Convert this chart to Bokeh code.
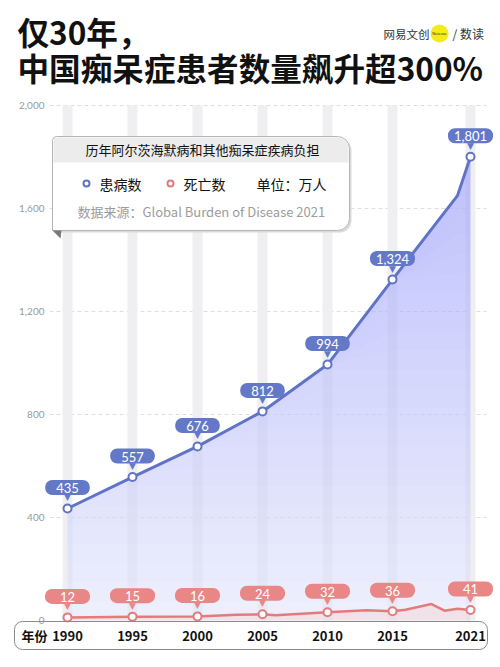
import numpy as np
from bokeh.plotting import figure
from bokeh.models import (ColumnDataSource, Range1d, BoxAnnotation, Label, PolyAnnotation,
                          FixedTicker, NumeralTickFormatter)
from bokeh.core.properties import value
from bokeh.embed import file_html
from bokeh.resources import INLINE

# ---------------- data ----------------
label_years = [1990, 1995, 2000, 2005, 2010, 2015, 2021]
prev_years = [1990, 1995, 2000, 2005, 2010, 2015, 2020, 2021]
prevalence = [435, 557, 676, 812, 994, 1324, 1650, 1801]          # 万人
death_years = [1990, 1995, 2000, 2003, 2005, 2006, 2010, 2013, 2015, 2016, 2018, 2019, 2020, 2021]
deaths = [12, 15, 16, 22, 24, 20, 32, 40, 36, 42, 64, 38, 46, 41]  # 万人
y_ticks = [0, 400, 800, 1200, 1600, 2000]

title1 = "仅30年，"
title2 = "中国痴呆症患者数量飙升超300%"
legend_title = "历年阿尔茨海默病和其他痴呆症疾病负担"
source_text = "数据来源：Global Burden of Disease 2021"

BLUE = "#6073c6"
BLUE_BUBBLE = "#6478c8"
RED = "#e27c7c"
RED_BUBBLE = "#e98686"
CJK = "Noto Sans CJK SC"
NUM = "Lato"

# ---------------- scales (page pixels <-> data) ----------------
X0_PX, PX_PER_YEAR = 67, 13.0
Y0_PX, PX_PER_UNIT = 620, 0.2575


def xd(px):
    return 1990 + (px - X0_PX) / PX_PER_YEAR


def yd(py):
    return (Y0_PX - py) / PX_PER_UNIT


W, H = 500, 667
p = figure(width=W, height=H, output_backend="svg", toolbar_location=None,
           x_range=Range1d(xd(0), xd(W)), y_range=Range1d(yd(H), yd(0)),
           min_border=0)
p.outline_line_color = None
p.background_fill_color = "white"
p.border_fill_color = "white"

# axes (labels pulled into the frame with negative standoff)
p.yaxis.ticker = FixedTicker(ticks=y_ticks)
p.yaxis.formatter = NumeralTickFormatter(format="0,0")
p.yaxis.axis_line_color = None
p.yaxis.major_tick_line_color = None
p.yaxis.minor_tick_line_color = None
p.yaxis.major_tick_out = 0
p.yaxis.major_tick_in = 0
p.yaxis.minor_tick_out = 0
p.yaxis.major_label_text_font = NUM
p.yaxis.major_label_text_font_size = "10px"
p.yaxis.major_label_text_color = "#9a9a9a"
p.yaxis.major_label_standoff = -44

p.xaxis.ticker = FixedTicker(ticks=label_years)
p.xaxis.axis_line_color = None
p.xaxis.major_tick_line_color = None
p.xaxis.minor_tick_line_color = None
p.xaxis.major_tick_out = 0
p.xaxis.major_tick_in = 0
p.xaxis.minor_tick_out = 0
p.xaxis.major_label_text_font = CJK
p.xaxis.major_label_text_font_size = "13px"
p.xaxis.major_label_text_font_style = "bold"
p.xaxis.major_label_text_color = "#111111"
p.xaxis.major_label_standoff = -37

p.xgrid.grid_line_color = None
p.ygrid.ticker = FixedTicker(ticks=y_ticks[1:])
p.ygrid.grid_line_color = "#dedede"
p.ygrid.grid_line_dash = "4 3"

# white margins hiding gridline ends outside the plotting area
for l, r in [(0, 49), (486, W)]:
    p.add_layout(BoxAnnotation(left=xd(l), right=xd(r), top=yd(90), bottom=yd(625),
                               fill_color="white", fill_alpha=1, line_color=None, level="underlay"))

# vertical bands at labelled years
p.vbar(x=label_years, width=10 / PX_PER_YEAR, top=y_ticks[-1], bottom=0,
       fill_color="#efeff1", line_color=None)

# blue area with vertical gradient (layers)
prev_arr = np.array(prevalence, dtype=float)
p.varea(x=prev_years, y1=0, y2=prevalence, fill_color="#e4e7fa", fill_alpha=0.6)
for L in np.linspace(0, 1800, 25):
    p.varea(x=prev_years, y1=np.minimum(prev_arr, L), y2=prev_arr,
            fill_color="#8d9cf0", fill_alpha=0.014)

# red area
p.varea(x=death_years, y1=0, y2=deaths, fill_color="#f6d6d6", fill_alpha=0.5)

# lines
p.line(x=prev_years, y=prevalence, line_color=BLUE, line_width=3)
p.line(x=death_years, y=deaths, line_color=RED, line_width=2.5)

prev_lab = [prevalence[prev_years.index(y)] for y in label_years]
death_lab = [deaths[death_years.index(y)] for y in label_years]

p.scatter(x=label_years, y=prev_lab, size=8, fill_color="white", line_color=BLUE, line_width=2)
p.scatter(x=label_years, y=death_lab, size=8, fill_color="white", line_color=RED, line_width=2)


def bubbles(xs, ys, texts, color):
    groups = {}
    for x, y, t in zip(xs, ys, texts):
        groups.setdefault(len(t), []).append((x, y, t))
    for n, items in groups.items():
        pad = {2: 15, 3: 11, 5: 6}.get(n, 10)
        src = ColumnDataSource(dict(x=[i[0] for i in items], y=[i[1] for i in items],
                                    t=[i[2] for i in items]))
        p.text(x="x", y="y", text="t", source=src, text_font=value(NUM), text_font_size="13px",
               text_color="white", text_align="center", text_baseline="middle", y_offset=-21,
               background_fill_color=color, border_radius=7,
               padding=dict(left=pad, right=pad, top=3, bottom=2))
    p.text(x=xs, y=ys, text=["▼"] * len(xs), text_font=value("DejaVu Sans"), text_font_size="9px",
           text_color=color, text_align="center", text_baseline="middle", y_offset=-11)


bubbles(label_years, prev_lab, [f"{v:,}" for v in prev_lab], BLUE_BUBBLE)
bubbles(label_years, death_lab, [f"{v:,}" for v in death_lab], RED_BUBBLE)

# ---------------- legend box ----------------
RAD = dict(top_left=4, top_right=12, bottom_right=12, bottom_left=0)
p.add_layout(BoxAnnotation(left=xd(54), right=xd(351), top=yd(138), bottom=yd(232),
                           fill_color="#dadada", fill_alpha=1, line_color=None, border_radius=RAD))
p.add_layout(BoxAnnotation(left=xd(52), right=xd(349), top=yd(136), bottom=yd(230),
                           fill_color="white", fill_alpha=1, line_color="#b5b5b5", line_alpha=1,
                           line_width=1, border_radius=RAD))
p.add_layout(BoxAnnotation(left=xd(53), right=xd(348), top=yd(137), bottom=yd(162),
                           fill_color="#ececec", fill_alpha=1, line_color=None,
                           border_radius=dict(top_left=3, top_right=11, bottom_right=0, bottom_left=0)))
p.add_layout(PolyAnnotation(xs=[xd(52), xd(61), xd(60)], ys=[yd(230), yd(230), yd(238)],
                            fill_color="#7a7a7a", fill_alpha=1, line_color=None))

p.add_layout(Label(x=xd(202), y=yd(149), text=legend_title, text_font=CJK, text_font_size="13px",
                   text_color="#111111", text_align="center", text_baseline="middle"))
for cx, col in [(86, BLUE), (170, RED)]:
    p.add_layout(BoxAnnotation(left=xd(cx - 3), right=xd(cx + 3), top=yd(180), bottom=yd(186),
                               fill_color="white", fill_alpha=1, line_color=col, line_alpha=1,
                               line_width=2, border_radius=3))
for tx, t in [(99, "患病数"), (183, "死亡数"), (256, "单位：万人")]:
    p.add_layout(Label(x=xd(tx), y=yd(183), text=t, text_font=CJK, text_font_size="14px",
                       text_color="#111111", text_align="left", text_baseline="middle"))
p.add_layout(Label(x=xd(77), y=yd(211), text=source_text, text_font=CJK, text_font_size="13px",
                   text_color="#9c9c9c", text_align="left", text_baseline="middle"))

# ---------------- x-axis box ----------------
p.add_layout(BoxAnnotation(left=xd(14), right=xd(487), top=yd(621), bottom=yd(649), fill_alpha=0,
                           line_color="#8a8a8a", line_alpha=1, line_width=1, border_radius=8))
p.add_layout(Label(x=xd(21), y=yd(635), text="年份", text_font=CJK, text_font_size="13px",
                   text_font_style="bold", text_color="#111111", text_align="left",
                   text_baseline="middle"))

# ---------------- titles ----------------
p.add_layout(Label(x=xd(17), y=yd(30), text=title1, text_font=CJK, text_font_size="31.6px",
                   text_font_style="bold", text_color="#111111", text_align="left",
                   text_baseline="middle"))
p.add_layout(Label(x=xd(17), y=yd(66), text=title2, text_font=CJK, text_font_size="31.6px",
                   text_font_style="bold", text_color="#111111", text_align="left",
                   text_baseline="middle"))

# logo
p.add_layout(BoxAnnotation(left=xd(430), right=xd(448), top=yd(24), bottom=yd(42),
                           fill_color="#f5ea1a", fill_alpha=1, line_color=None, border_radius=9))
p.add_layout(Label(x=xd(383), y=yd(33), text="网易文创", text_font=CJK, text_font_size="11.5px",
                   text_color="#333333", text_align="left", text_baseline="middle"))
p.add_layout(Label(x=xd(439), y=yd(33), text="Netease", text_font=NUM, text_font_size="4px",
                   text_color="#333333", text_align="center", text_baseline="middle"))
p.add_layout(Label(x=xd(452), y=yd(33), text="/ 数读", text_font=CJK, text_font_size="12px",
                   text_color="#333333", text_align="left", text_baseline="middle"))

open("out.html", "w").write(file_html(p, INLINE))
